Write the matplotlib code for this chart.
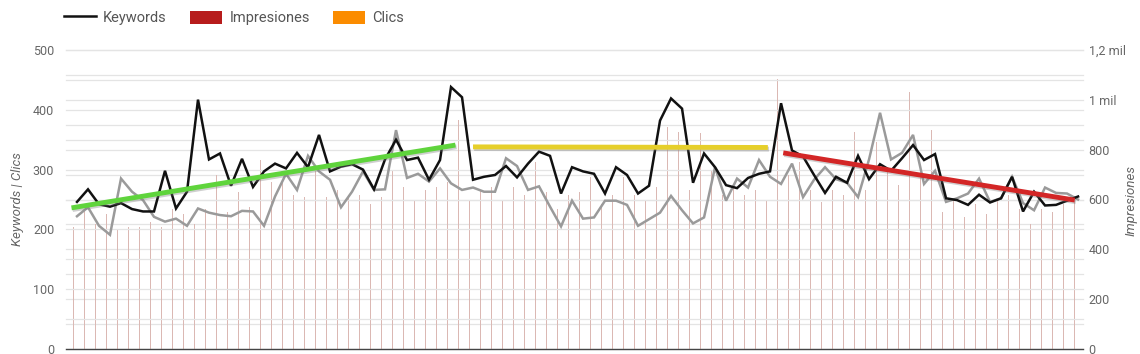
import matplotlib
matplotlib.use("Agg")
import matplotlib.pyplot as plt
import matplotlib.patheffects as pe
from matplotlib.lines import Line2D
from matplotlib.patches import Patch
from matplotlib.ticker import FixedLocator, FuncFormatter
import numpy as np

plt.rcParams['font.family'] = ['Roboto', 'DejaVu Sans']

# ---- data ----
keywords = [246, 267, 242, 238, 244, 234, 230, 230, 298, 235, 263, 417, 317, 327, 273,
            318, 271, 297, 310, 302, 328, 304, 358, 297, 305, 309, 300, 267, 317, 350,
            316, 320, 283, 316, 438, 421, 283, 288, 291, 306, 287, 310, 330, 323, 260,
            304, 297, 293, 260, 304, 291, 260, 273, 382, 419, 402, 278, 327, 304, 274,
            269, 286, 293, 297, 411, 332, 322, 291, 261, 288, 278, 323, 284, 309, 298,
            319, 341, 316, 326, 252, 249, 241, 258, 245, 252, 288, 230, 263, 240, 241,
            248, 255]
clics = [222, 237, 206, 191, 285, 263, 249, 221, 213, 218, 206, 235, 228, 224, 222,
         231, 230, 206, 255, 293, 266, 323, 297, 283, 237, 263, 297, 266, 267, 366,
         286, 293, 280, 302, 277, 266, 270, 263, 263, 319, 306, 266, 272, 238, 205,
         248, 218, 220, 248, 248, 241, 206, 217, 228, 256, 232, 210, 220, 304, 248,
         285, 270, 316, 288, 276, 310, 254, 283, 304, 284, 278, 254, 317, 395, 317,
         328, 358, 276, 298, 246, 252, 260, 285, 246, 252, 288, 244, 232, 270, 261,
         260, 250]
impresiones = [491, 560, 500, 540, 480, 490, 490, 510, 490, 560, 540, 500, 560, 700, 550,
               630, 570, 760, 670, 670, 620, 610, 720, 610, 640, 620, 620, 580, 610, 720,
               650, 600, 640, 650, 670, 920, 600, 640, 650, 600, 650, 620, 750, 630, 560,
               620, 630, 690, 580, 620, 690, 620, 600, 650, 890, 870, 640, 865, 720, 620,
               650, 620, 640, 600, 1085, 700, 750, 640, 590, 640, 620, 870, 640, 830, 720,
               660, 1030, 700, 880, 550, 600, 530, 580, 540, 600, 620, 560, 500, 560, 550,
               580, 600]

# trend segments: (start index, end index, start value, end value)
trend_start = [-0.5, 36.0, 64.2]
trend_end = [34.4, 62.8, 90.7]
trend_v0 = [236, 338, 328]
trend_v1 = [341, 337, 249]
trend_colors = ['#5fd43c', '#e6cf2a', '#d32626']

left_ticks = [0, 100, 200, 300, 400, 500]
right_ticks = [0, 200, 400, 600, 800, 1000, 1200]
right_labels = ['0', '200', '400', '600', '800', '1 mil', '1,2 mil']

legend_labels = ['Keywords', 'Impresiones', 'Clics']

# ---- figure ----
W, H = 1140, 354
fig = plt.figure(figsize=(W / 100, H / 100), dpi=100)
ax = fig.add_axes([66 / W, (H - 349) / H, (1083 - 66) / W, (349 - 50) / H])
ax2 = ax.twinx()
ax.set_zorder(ax2.get_zorder() + 1)
ax.patch.set_visible(False)

x = np.arange(len(keywords))

ax2.bar(x - 0.3, impresiones, width=0.13, color='#dbb8b3', zorder=2, linewidth=0)
ax2.set_ylim(0, 1200)
ax.set_ylim(0, 500)
ax.set_xlim(-1.0, 91.45)

# grid
for v in np.arange(0, 501, 50):
    ax.axhline(v, color='#e4e4e4', lw=0.9, zorder=0, clip_on=False)
for v in np.arange(100, 1201, 100):
    ax2.axhline(v, color='#e4e4e4', lw=0.9, zorder=0, clip_on=False)

ax.plot(x, clics, color='#9a9a9a', lw=1.8, zorder=3, solid_joinstyle='miter')
ax.plot(x, keywords, color='#111111', lw=1.8, zorder=4, solid_joinstyle='miter')

for s, e, v0, v1, c in zip(trend_start, trend_end, trend_v0, trend_v1, trend_colors):
    ax.plot([s, e], [v0, v1], color=c, lw=3.5, solid_capstyle='butt', zorder=5,
            path_effects=[pe.SimpleLineShadow(offset=(0.8, -1.2), shadow_color='#777777', alpha=0.35),
                          pe.Normal()])

# axes styling
for sp in ['top', 'left', 'right']:
    ax.spines[sp].set_visible(False)
    ax2.spines[sp].set_visible(False)
ax.spines['bottom'].set_color('#444444')
ax.spines['bottom'].set_linewidth(1.0)
ax2.spines['bottom'].set_visible(False)
ax.set_xticks([])

ax.yaxis.set_major_locator(FixedLocator(left_ticks))
ax.tick_params(axis='y', length=0, pad=8.5, labelsize=9, labelcolor='#666666')
ax2.yaxis.set_major_locator(FixedLocator(right_ticks))
ax2.yaxis.set_major_formatter(FuncFormatter(lambda v, p: right_labels[right_ticks.index(int(round(v)))]
                                            if int(round(v)) in right_ticks else ''))
ax2.tick_params(axis='y', length=0, pad=4, labelsize=9, labelcolor='#666666')

ax.set_ylabel('Keywords | Clics', fontsize=9.5, style='italic', color='#666666', labelpad=6)
fig.text(1131 / W, (H - 200) / H, 'Impresiones', rotation=90, ha='center', va='center',
         fontsize=9.5, style='italic', color='#666666')

handles = [Line2D([0], [0], color='#111111', lw=1.8),
           Patch(facecolor='#b71c1c', edgecolor='none'),
           Patch(facecolor='#fb8c00', edgecolor='none')]
fig.legend(handles, legend_labels, loc='upper left', bbox_to_anchor=(55 / W, 0.995),
           ncol=3, frameon=False, fontsize=10.5, labelcolor='#555555',
           handlelength=2.2, handleheight=1.0, columnspacing=1.6, handletextpad=0.5,
           borderaxespad=0.2)

fig.savefig('out.png', dpi=100, facecolor='white')
